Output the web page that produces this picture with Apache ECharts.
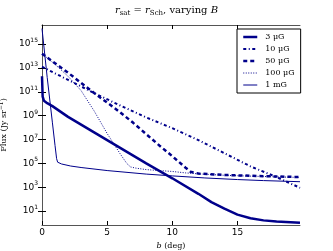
<!DOCTYPE html>
<html><head><meta charset="utf-8">
<script src="https://cdn.jsdelivr.net/npm/echarts@6/dist/echarts.min.js"></script>
<style>html,body{margin:0;padding:0;background:#fff}#c{width:333px;height:251px}</style>
</head><body><div id="c"></div>
<script>
// b (deg) positions and flux (Jy sr^-1) values
const x3uG   = [0, 0.05, 0.15, 0.4, 0.8, 2, 4, 6, 8, 10, 12, 13, 14, 15, 16, 17, 18, 19.8];
const f3uG   = [2e12, 4e10, 1.78e10, 1.12e10, 6.3e9, 7.9e8, 4e7, 2e6, 1e5, 5.6e3, 280, 56, 16, 5, 2.5, 1.66, 1.32, 1.05];
const x10uG  = [0, 2, 4, 6, 8, 10, 12, 14, 16, 18, 19.8];
const f10uG  = [1.26e13, 1e12, 7.9e10, 7.1e9, 7.1e8, 8.9e7, 8.9e6, 7.1e5, 5.6e4, 7.1e3, 890];
const x50uG  = [0, 1, 2, 3, 4, 5, 6, 7, 8, 9, 10, 11, 11.4, 12, 14, 16, 18, 19.8];
const f50uG  = [1.58e14, 2.5e13, 4e12, 5.6e11, 7.9e10, 1.26e10, 1.9e9, 2.5e8, 2.8e7, 3.2e6, 4e5, 4.5e4, 2e4, 1.41e4, 1.07e4, 9.1e3, 7.9e3, 7.1e3];
const x100uG = [0, 1, 2, 3, 4, 5, 6, 6.5, 6.8, 7.2, 8, 9, 10, 11, 12, 14, 16, 18, 19.8];
const f100uG = [1.58e14, 2e13, 2e12, 1.26e11, 2.5e9, 3.2e7, 6.3e5, 1e5, 5e4, 4e4, 3e4, 2.5e4, 2.1e4, 1.6e4, 1.32e4, 1e4, 8.5e3, 7.4e3, 6.6e3];
const x1mG   = [0, 0.4, 0.8, 1.0, 1.12, 1.2, 1.5, 2.2, 3, 5, 8, 10, 12.5, 15, 17, 19.8];
const f1mG   = [2e16, 1.58e12, 2.5e8, 3.2e6, 2.5e5, 1.26e5, 8.9e4, 6e4, 4.5e4, 2.5e4, 1.26e4, 8.9e3, 6e3, 4.4e3, 3.6e3, 2.9e3];
const seriesNames = ['3 μG', '10 μG', '50 μG', '100 μG', '1 mG'];
const xTicks = [0, 5, 10, 15];
const yTickExps = [1, 3, 5, 7, 9, 11, 13, 15];

const zip = (xs, ys) => xs.map((v, i) => [v, ys[i]]);
const yTicks = yTickExps.map(e => Math.pow(10, e));
const C = '#00008b';
const serif = 'DejaVu Serif';
const frame = {show: true, lineStyle: {color: '#555', width: 1}};
const styles = [
  {color: C, width: 2.5, type: 'solid'},
  {color: C, width: 2, type: [3, 2.5, 1, 2.5]},
  {color: C, width: 2.5, type: [4, 3]},
  {color: C, width: 1, type: [1, 1.5]},
  {color: C, width: 1, type: 'solid'}
];
const dataSets = [zip(x3uG, f3uG), zip(x10uG, f10uG), zip(x50uG, f50uG), zip(x100uG, f100uG), zip(x1mG, f1mG)];

const chart = echarts.init(document.getElementById('c'), null, {renderer: 'canvas'});
chart.setOption({
  animation: false,
  backgroundColor: '#fff',
  title: {
    text: '{i|r}{sub|sat}{n| = }{i|r}{sub|Sch}{n|, varying }{i|B}',
    left: 'center', top: 4, padding: 0,
    textStyle: {
      fontWeight: 'normal',
      rich: {
        i: {fontFamily: serif, fontStyle: 'italic', fontWeight: 'normal', fontSize: 10, color: '#000'},
        n: {fontFamily: serif, fontWeight: 'normal', fontSize: 10, color: '#000'},
        sub: {fontFamily: serif, fontWeight: 'normal', fontSize: 7, color: '#000', padding: [6, 0, 0, 0]}
      }
    }
  },
  legend: {
    orient: 'vertical', left: 237, top: 29,
    data: seriesNames.map((n, i) => ({name: n, lineStyle: styles[i]})),
    backgroundColor: '#fff', borderColor: '#000', borderWidth: 1,
    padding: [4, 6, 4, 5], itemGap: 4, itemWidth: 14, itemHeight: 9,
    itemStyle: {opacity: 0},
    textStyle: {fontFamily: serif, fontSize: 8, color: '#000', padding: [0, 0, 0, 3]}
  },
  grid: {left: 42, right: 33, top: 25, bottom: 26, outerBoundsMode: 'none', containLabel: false},
  xAxis: [{
    type: 'value', min: 0, max: 19.8, interval: 5,
    name: '{i|b} (deg)', nameLocation: 'middle', nameGap: 14,
    nameTextStyle: {fontFamily: serif, fontSize: 8, color: '#000', rich: {i: {fontFamily: serif, fontStyle: 'italic', fontSize: 8, color: '#000'}}},
    axisLine: frame, splitLine: {show: false},
    axisTick: {inside: true, length: 4, lineStyle: {color: '#000'}, customValues: xTicks},
    axisLabel: {fontFamily: 'DejaVu Sans', fontSize: 9, color: '#000', margin: 3, customValues: xTicks}
  }, {
    type: 'value', min: 0, max: 19.8, position: 'top',
    axisLine: frame, splitLine: {show: false},
    axisTick: {inside: true, length: 4, lineStyle: {color: '#000'}, customValues: xTicks},
    axisLabel: {show: false}
  }],
  yAxis: [{
    type: 'log', logBase: 10, min: 0.68, max: 4e16,
    name: 'Flux (Jy sr{sup|−1})', nameLocation: 'middle', nameGap: 28,
    nameTextStyle: {fontFamily: serif, fontSize: 8, color: '#000', rich: {sup: {fontFamily: serif, fontSize: 6, color: '#000', padding: [0, 0, 6, 0]}}},
    axisLine: frame, splitLine: {show: false}, minorTick: {show: false},
    axisTick: {inside: true, length: 4, lineStyle: {color: '#000'}, customValues: yTicks},
    axisLabel: {
      customValues: yTicks, margin: 4, color: '#000',
      formatter: v => '{b|10}{s|' + Math.round(Math.log10(v)) + '}',
      rich: {
        b: {fontFamily: 'DejaVu Sans', fontSize: 9, color: '#000'},
        s: {fontFamily: 'DejaVu Sans', fontSize: 6, color: '#000', padding: [0, 0, 7, 0]}
      }
    }
  }, {
    type: 'log', logBase: 10, min: 0.68, max: 4e16, position: 'right',
    axisLine: frame, splitLine: {show: false},
    axisTick: {inside: true, length: 4, lineStyle: {color: '#000'}, customValues: yTicks},
    axisLabel: {show: false}
  }],
  series: seriesNames.map((n, i) => ({
    name: n, type: 'line', data: dataSets[i], showSymbol: false, symbol: 'none',
    lineStyle: styles[i], itemStyle: {color: C}
  }))
});
</script></body></html>
